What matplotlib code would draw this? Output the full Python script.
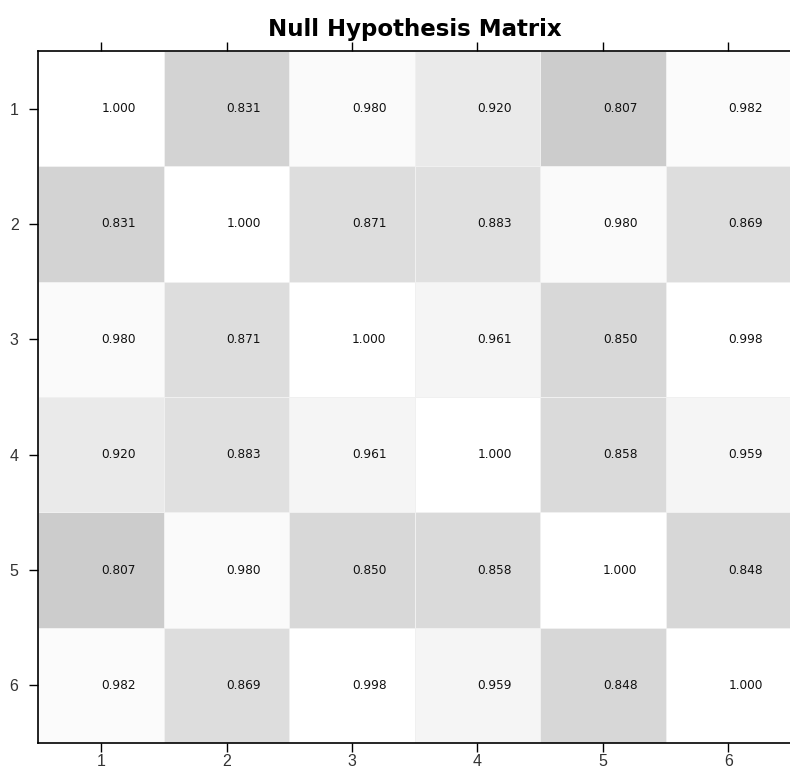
import numpy as np
import matplotlib
matplotlib.use('Agg')
import matplotlib.pyplot as plt

plt.rcParams['font.family'] = ['Liberation Sans', 'DejaVu Sans']

# Null hypothesis matrix values (rows/cols 1..6)
labels = ['1', '2', '3', '4', '5', '6']
row1 = [1.000, 0.831, 0.980, 0.920, 0.807, 0.982]
row2 = [0.831, 1.000, 0.871, 0.883, 0.980, 0.869]
row3 = [0.980, 0.871, 1.000, 0.961, 0.850, 0.998]
row4 = [0.920, 0.883, 0.961, 1.000, 0.858, 0.959]
row5 = [0.807, 0.980, 0.850, 0.858, 1.000, 0.848]
row6 = [0.982, 0.869, 0.998, 0.959, 0.848, 1.000]

matrix = np.array([row1, row2, row3, row4, row5, row6])
n = len(labels)

fig = plt.figure(figsize=(7.9, 7.71), dpi=100)
ax = fig.add_axes([0.0487, 0.0363, 0.9526, 0.8976])

pos = np.arange(1, n + 1)
edges = np.arange(0.5, n + 1.0)
ax.pcolormesh(edges, edges, matrix, cmap='gray', vmin=0.034, vmax=1.0,
              edgecolor='#f0f0f0', linewidth=0.6)

# values start at the tick position of each column
for i in range(n):
    for j in range(n):
        ax.text(pos[j], pos[i], f'{matrix[i, j]:.3f}', ha='left', va='center',
                fontsize=8.7, family='DejaVu Sans', color='#111111')

ax.set_xlim(0.5, n + 0.5)
ax.set_ylim(n + 0.5, 0.5)
ax.set_xticks(pos)
ax.set_yticks(pos)
ax.set_xticklabels(labels)
ax.set_yticklabels(labels)
ax.tick_params(axis='both', direction='out', length=6.3, width=1, labelsize=11.5,
               colors='black', labelcolor='#333333')
ax.tick_params(axis='x', top=True, labeltop=False, pad=1.5)
ax.tick_params(axis='y', pad=8)
for side in ['left', 'bottom', 'top']:
    ax.spines[side].set_linewidth(1.2)
ax.spines['right'].set_visible(False)

ax.set_title('Null Hypothesis Matrix', fontsize=16.5, fontweight='bold',
             family='DejaVu Sans', pad=10.5)

fig.savefig('out.png', dpi=100)
